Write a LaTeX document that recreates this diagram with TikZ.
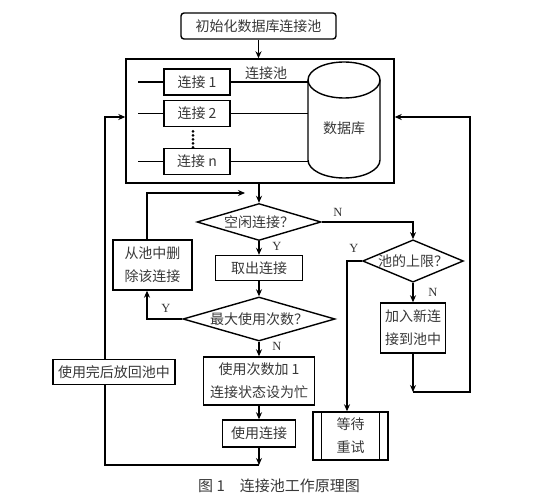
\documentclass[tikz,border=0pt]{standalone}
\usepackage{fontspec}
\setmainfont{Liberation Serif}
\newfontfamily\cjk{Noto Sans CJK SC}
\usetikzlibrary{shapes.geometric,arrows.meta,calc}
\begin{document}
\begin{tikzpicture}[x=1pt,y=-1pt,
 every node/.style={font=\cjk\fontsize{14}{17}\selectfont, text=black!78},
 box/.style={draw=black, line width=1.4pt, rectangle, inner sep=0pt, align=center},
 tl/.style={font=\cjk\fontsize{14}{23}\selectfont},
 dia/.style={draw=black, line width=1.4pt, diamond, inner sep=0pt},
 yn/.style={font=\rmfamily\fontsize{12.5}{14}\selectfont, text=black!80},
 line/.style={line width=1.4pt, draw=black},
 arr/.style={line, -{Stealth[length=7pt,width=6pt]}},
]
\useasboundingbox (0,0) rectangle (550,500);

% top
\node[box, rounded corners=3pt, minimum width=155, minimum height=26] (init) at (258.5,26) {初始化数据库连接池};
\node[box, minimum width=268, minimum height=124] (pool) at (260,121) {};
\draw[arr] (init.south) -- (init.south |- pool.north);
\node (plabel) at (266,73) {连接池};

\node[box, minimum width=66, minimum height=26] (c1) at (197,82) {连接 1};
\node[box, minimum width=66, minimum height=26] (c2) at (197,113.5) {连接 2};
\node[box, minimum width=66, minimum height=26] (cn) at (197,161.5) {连接 n};
\foreach \yy in {131.5,135.5,139.5,143.5,147.5} \fill (193,\yy) circle[radius=1.5];

% cylinder
\draw[line] (344,80) ellipse[x radius=36, y radius=18];
\draw[line] (308,80) -- (308,160) arc[start angle=180,end angle=0,x radius=36,y radius=18] -- (380,80);
\node[minimum width=72, minimum height=100, inner sep=0pt] (db) at (344,128) {数据库};

\foreach \c in {c1,c2,cn} {
  \draw[line] (\c.west) -- ++(-25,0);
  \draw[line] (\c.east) -- (\c.east -| db.west);
}

% main column
\node[dia, aspect=3.35, minimum width=124, minimum height=37] (d1) at (259,222) {空闲连接？};
\draw[arr] (pool.south -| d1.north) -- (d1.north);

\node[box, minimum width=87, minimum height=25] (take) at (259,268) {取出连接};
\draw[arr] (d1.south) -- (take.north);
\node[yn] at (277,246) {Y};

\node[dia, aspect=3.45, minimum width=152, minimum height=44] (d2) at (259,319) {最大使用次数？};
\draw[arr] (take.south) -- (d2.north);

\node[box, tl, minimum width=79, minimum height=50] (del) at (152.5,265) {从池中删\\除该连接};
\coordinate (lx) at (147,0);
\draw[arr] (d2.west) -| (del.south -| lx);
\node[yn] at (166,308) {Y};
\coordinate (j1) at (245,193);
\draw[arr] (del.north -| lx) |- (j1);

\node[yn] at (277,346) {N};
\node[box, tl, minimum width=111, minimum height=48] (upd) at (259,381) {使用次数加 1\\连接状态设为忙};
\draw[arr] (d2.south) -- (upd.north);

\node[box, minimum width=73, minimum height=27] (use) at (259,433.5) {使用连接};
\draw[arr] (upd.south) -- (use.north);
\coordinate (j2) at (259,465);
\draw[arr] (use.south) -- (j2);

\node[box, minimum width=122, minimum height=25] (ret) at (114,372) {使用完后放回池中};
\coordinate (lx2) at (105,0);
\coordinate (py) at (0,117);
\draw[line] (j2) -| (ret.south -| lx2);
\draw[arr] (ret.north -| lx2) |- (pool.west |- py);

% right branch
\node[dia, aspect=2.38, minimum width=100, minimum height=42] (d3) at (413,261) {池的上限？};
\draw[arr] (d1.east) -| (d3.north);
\node[yn] at (338,212) {N};
\node[yn] at (354,248) {Y};

\node[box, tl, minimum width=75, minimum height=48] (wait) at (350.5,436) {等待\\重试};
\draw[line] ([xshift=9pt]wait.north west) -- ([xshift=9pt]wait.south west);
\draw[line] ([xshift=-9pt]wait.north east) -- ([xshift=-9pt]wait.south east);
\coordinate (lx3) at (347,0);
\draw[arr] (d3.west) -| (wait.north -| lx3);

\node[yn] at (433,292) {N};
\node[box, tl, minimum width=65, minimum height=50] (add) at (413,328) {加入新连\\接到池中};
\draw[arr] (d3.south) -- (add.north);
\coordinate (j3) at (413,392);
\draw[arr] (add.south) -- (j3);
\coordinate (rx) at (470,0);
\draw[arr] (j3) -| (rx |- py) -- (pool.east |- py);

% caption
\node[font=\cjk\fontsize{15}{18}\selectfont] (cap) at (279,486) {图 1\quad 连接池工作原理图};
\end{tikzpicture}
\end{document}
